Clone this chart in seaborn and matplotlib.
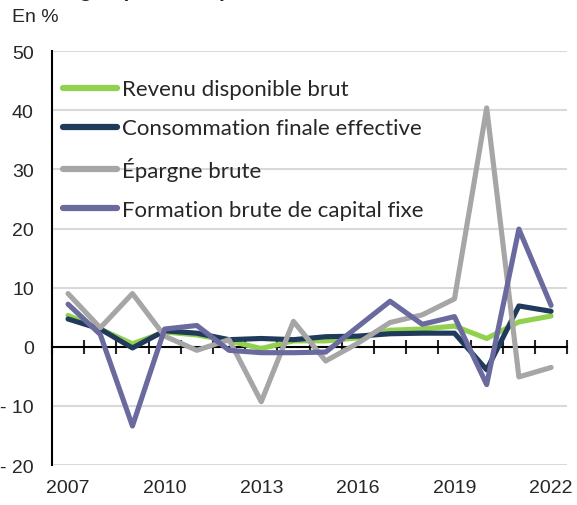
import matplotlib
matplotlib.use("Agg")
import matplotlib.pyplot as plt
import seaborn as sns
import pandas as pd
import numpy as np

years = list(range(2007, 2023))
revenu = [5.3, 3.0, 0.5, 2.5, 2.0, 1.0, -0.3, 1.0, 1.0, 1.5, 2.8, 3.0, 3.5, 1.4, 4.2, 5.2]
conso = [4.7, 3.0, -0.2, 2.7, 2.3, 1.2, 1.4, 1.2, 1.7, 1.8, 2.2, 2.3, 2.3, -3.9, 6.9, 6.0]
epargne = [9.0, 3.2, 9.0, 1.8, -0.6, 1.2, -9.3, 4.3, -2.4, 0.6, 4.1, 5.4, 8.1, 40.4, -5.1, -3.5]
fbcf = [7.2, 2.1, -13.4, 3.0, 3.6, -0.6, -1.0, -1.0, -0.9, 3.4, 7.7, 3.8, 5.1, -6.4, 19.9, 7.0]

series = ["Revenu disponible brut", "Consommation finale effective",
          "Épargne brute", "Formation brute de capital fixe"]
colors = ["#92d050", "#203a5c", "#a6a6a6", "#6a6a9e"]

df = pd.DataFrame({"year": years, series[0]: revenu, series[1]: conso,
                   series[2]: epargne, series[3]: fbcf})
long = df.melt(id_vars="year", var_name="serie", value_name="val")

sns.set_style("white")
plt.rcParams["font.family"] = ["Liberation Sans", "DejaVu Sans"]

fig = plt.figure(figsize=(5.77, 5.06), dpi=100)
ax = fig.add_axes([0.090, 0.079, 0.893, 0.818])

# grid
for v in range(-20, 51, 10):
    if v != 0:
        ax.axhline(v, color="#d9d9d9", lw=1.5, zorder=0)

sns.lineplot(data=long, x="year", y="val", hue="serie", hue_order=series,
             palette=colors, linewidth=3.7, ax=ax, zorder=3)

ax.set_xlim(2006.5, 2022.5)
ax.set_ylim(-20, 50)
ax.set_xlabel("")
ax.set_ylabel("")

for s in ["top", "right", "bottom"]:
    ax.spines[s].set_visible(False)
ax.spines["left"].set_color("black")
ax.spines["left"].set_linewidth(1.5)

ax.set_yticks(range(-20, 51, 10))
ax.set_yticklabels([("- " + str(-v)) if v < 0 else str(v) for v in range(-20, 51, 10)],
                   fontsize=14)
ax.tick_params(axis="y", direction="inout", length=10, width=1.5, pad=8)

ax.set_xticks(years[::3])
ax.set_xticklabels([str(y) for y in years[::3]], fontsize=14)
ax.tick_params(axis="x", length=0, pad=10)

# zero axis with category ticks
sec = ax.secondary_xaxis(2 / 7)
sec.spines["bottom"].set_color("black")
sec.spines["bottom"].set_linewidth(1.5)
sec.set_xticks(np.arange(2006.5, 2023, 1))
sec.set_xticklabels([])
sec.tick_params(direction="inout", length=10, width=1.5)

leg = ax.legend(loc="upper left", bbox_to_anchor=(-0.018, 0.98), frameon=False,
                handlelength=2.45, handletextpad=0.2, labelspacing=0.85,
                prop={"family": ["Lato", "DejaVu Sans"], "size": 16})
for h in leg.get_lines():
    h.set_linewidth(4.5)
    h.set_solid_capstyle("round")

fig.text(0.02, 0.957, "En %", fontsize=14)
fig.text(0.045, 1.005, "Ménages (en valeur)", fontsize=15, fontweight="bold", va="baseline")

fig.savefig("out.png", dpi=100)
